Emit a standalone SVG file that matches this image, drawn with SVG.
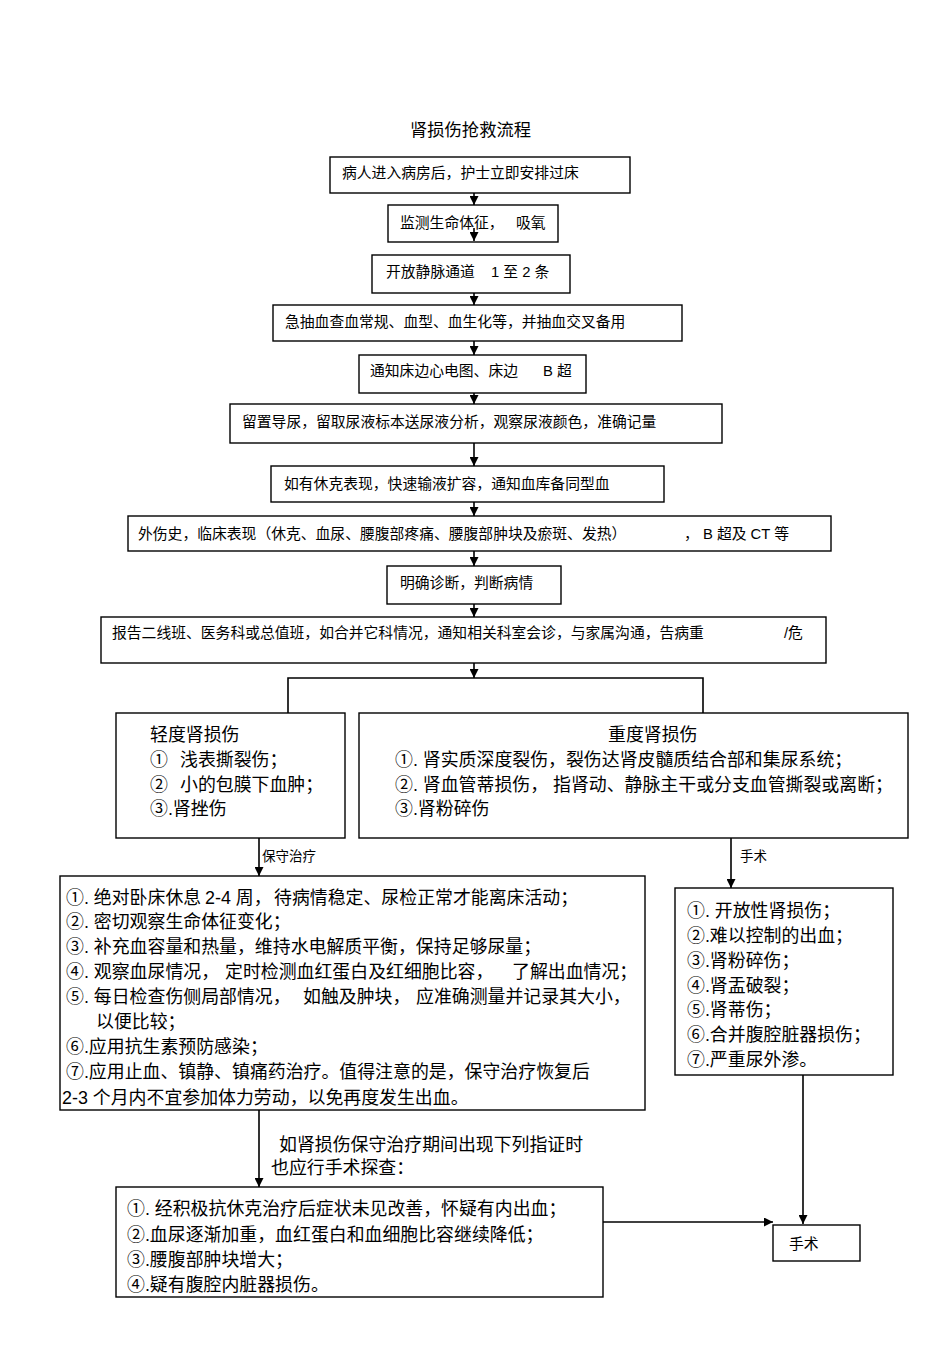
<svg xmlns="http://www.w3.org/2000/svg" width="950" height="1345" viewBox="0 0 950 1345">
<defs>
<style>
text{font-family:"Liberation Sans","Noto Sans CJK SC",sans-serif;fill:#000;}
.t{font-size:14.8px;}
.b{font-size:17.9px;}
.s{font-size:13.5px;}
.title{font-size:17.3px;}
.box{fill:#fff;stroke:#000;stroke-width:1.4;}
.c{fill:none;stroke:#000;stroke-width:1.6;}
</style>
<marker id="ah" viewBox="0 0 10 10" refX="10" refY="5" markerWidth="9" markerHeight="9" markerUnits="userSpaceOnUse" orient="auto">
<path d="M0,0 L10,5 L0,10 z" fill="#000"/>
</marker>
</defs>
<rect width="950" height="1345" fill="#fff"/>
<text class="title" x="410" y="136">肾损伤抢救流程</text>

<g id="n1"><rect class="box" x="330" y="157" width="300" height="36"/><text class="t" x="342" y="178">病人进入病房后，护士立即安排过床</text></g>
<g id="n2"><rect class="box" x="388" y="205" width="170" height="37"/><text class="t" y="228"><tspan x="400">监测生命体征，</tspan><tspan x="516">吸氧</tspan></text></g>
<g id="n3"><rect class="box" x="372" y="255" width="198" height="38"/><text class="t" y="277"><tspan x="386">开放静脉通道</tspan><tspan x="491">1 至 2 条</tspan></text></g>
<g id="n4"><rect class="box" x="273" y="305" width="409" height="36"/><text class="t" x="285" y="327">急抽血查血常规、血型、血生化等，并抽血交叉备用</text></g>
<g id="n5"><rect class="box" x="359" y="355" width="227" height="38"/><text class="t" y="376"><tspan x="370">通知床边心电图、床边</tspan><tspan x="543">B 超</tspan></text></g>
<g id="n6"><rect class="box" x="230" y="404" width="492" height="39"/><text class="t" x="242" y="427">留置导尿，留取尿液标本送尿液分析，观察尿液颜色，准确记量</text></g>
<g id="n7"><rect class="box" x="271" y="466" width="393" height="36"/><text class="t" x="284" y="489">如有休克表现，快速输液扩容，通知血库备同型血</text></g>
<g id="n8"><rect class="box" x="128" y="516" width="703" height="35"/><text class="t" y="539"><tspan x="138">外伤史，临床表现（休克、血尿、腰腹部疼痛、腰腹部肿块及瘀斑、发热）</tspan><tspan x="684">， B 超及 CT 等</tspan></text></g>
<g id="n9"><rect class="box" x="387" y="566" width="174" height="38"/><text class="t" x="400" y="588">明确诊断，判断病情</text></g>
<g id="n10"><rect class="box" x="101" y="617" width="725" height="46"/><text class="t" y="638"><tspan x="112">报告二线班、医务科或总值班，如合并它科情况，通知相关科室会诊，与家属沟通，告病重</tspan><tspan x="784">/危</tspan></text></g>

<g id="n11"><rect class="box" x="116" y="713" width="229" height="125"/>
<text class="b" x="150" y="741">轻度肾损伤</text>
<text class="b" y="766"><tspan x="150">①</tspan><tspan x="180">浅表撕裂伤；</tspan></text>
<text class="b" y="791"><tspan x="150">②</tspan><tspan x="180">小的包膜下血肿；</tspan></text>
<text class="b" x="150" y="815">③.肾挫伤</text></g>

<g id="n12"><rect class="box" x="359" y="713" width="549" height="125"/>
<text class="b" x="608" y="741">重度肾损伤</text>
<text class="b" x="395" y="766">①. 肾实质深度裂伤，裂伤达肾皮髓质结合部和集尿系统；</text>
<text class="b" y="791"><tspan x="395">②. 肾血管蒂损伤，</tspan><tspan x="553">指肾动、静脉主干或分支血管撕裂或离断；</tspan></text>
<text class="b" x="395" y="815">③.肾粉碎伤</text></g>

<g id="n13"><rect class="box" x="60" y="876" width="585" height="234"/>
<text class="b" y="904"><tspan x="66">①. 绝对卧床休息</tspan><tspan x="205">2-4 周，</tspan><tspan x="274">待病情稳定、尿检正常才能离床活动；</tspan></text>
<text class="b" x="66" y="928">②. 密切观察生命体征变化；</text>
<text class="b" x="66" y="953">③. 补充血容量和热量，维持水电解质平衡，保持足够尿量；</text>
<text class="b" y="978"><tspan x="66">④. 观察血尿情况，</tspan><tspan x="225">定时检测血红蛋白及红细胞比容，</tspan><tspan x="512">了解出血情况；</tspan></text>
<text class="b" y="1003"><tspan x="66">⑤. 每日检查伤侧局部情况，</tspan><tspan x="303">如触及肿块，</tspan><tspan x="416">应准确测量并记录其大小，</tspan></text>
<text class="b" x="96" y="1028">以便比较；</text>
<text class="b" x="66" y="1053">⑥.应用抗生素预防感染；</text>
<text class="b" x="66" y="1078">⑦.应用止血、镇静、镇痛药治疗。值得注意的是，保守治疗恢复后</text>
<text class="b" x="62" y="1104">2-3 个月内不宜参加体力劳动，以免再度发生出血。</text></g>

<g id="n14"><rect class="box" x="675" y="888" width="218" height="187"/>
<text class="b" x="687" y="917">①. 开放性肾损伤；</text>
<text class="b" x="687" y="942">②.难以控制的出血；</text>
<text class="b" x="687" y="967">③.肾粉碎伤；</text>
<text class="b" x="687" y="992">④.肾盂破裂；</text>
<text class="b" x="687" y="1016">⑤.肾蒂伤；</text>
<text class="b" x="687" y="1041">⑥.合并腹腔脏器损伤；</text>
<text class="b" x="687" y="1066">⑦.严重尿外渗。</text></g>

<g id="n15"><rect class="box" x="116" y="1187" width="487" height="110"/>
<text class="b" x="127" y="1215">①. 经积极抗休克治疗后症状未见改善，怀疑有内出血；</text>
<text class="b" x="127" y="1241">②.血尿逐渐加重，血红蛋白和血细胞比容继续降低；</text>
<text class="b" x="127" y="1266">③.腰腹部肿块增大；</text>
<text class="b" x="127" y="1291">④.疑有腹腔内脏器损伤。</text></g>

<g id="n16"><rect class="box" x="773" y="1225" width="87" height="36"/><text class="t" x="789" y="1249">手术</text></g>

<g id="connectors">
<line class="c" x1="474" y1="193" x2="474" y2="205" marker-end="url(#ah)"/>
<line class="c" x1="474" y1="228" x2="474" y2="241" marker-end="url(#ah)"/>
<line class="c" x1="474" y1="293" x2="474" y2="305" marker-end="url(#ah)"/>
<line class="c" x1="474" y1="341" x2="474" y2="355" marker-end="url(#ah)"/>
<line class="c" x1="474" y1="393" x2="474" y2="404" marker-end="url(#ah)"/>
<line class="c" x1="474" y1="443" x2="474" y2="466" marker-end="url(#ah)"/>
<line class="c" x1="474" y1="502" x2="474" y2="516" marker-end="url(#ah)"/>
<line class="c" x1="474" y1="551" x2="474" y2="566" marker-end="url(#ah)"/>
<line class="c" x1="474" y1="604" x2="474" y2="617" marker-end="url(#ah)"/>
<line class="c" x1="474" y1="663" x2="474" y2="678" marker-end="url(#ah)"/>
<polyline class="c" points="288,713 288,678 703,678 703,713"/>
<line class="c" x1="259" y1="838" x2="259" y2="876" marker-end="url(#ah)"/>
<text class="s" x="262" y="861">保守治疗</text>
<line class="c" x1="731" y1="838" x2="731" y2="888" marker-end="url(#ah)"/>
<text class="s" x="740" y="861">手术</text>
<line class="c" x1="259" y1="1110" x2="259" y2="1187" marker-end="url(#ah)"/>
<text class="b" x="279" y="1151">如肾损伤保守治疗期间出现下列指证时</text>
<text class="b" x="271" y="1174">也应行手术探查：</text>
<line class="c" x1="803" y1="1075" x2="803" y2="1224" marker-end="url(#ah)"/>
<line class="c" x1="603" y1="1222" x2="773" y2="1222" marker-end="url(#ah)"/>
</g>
</svg>
